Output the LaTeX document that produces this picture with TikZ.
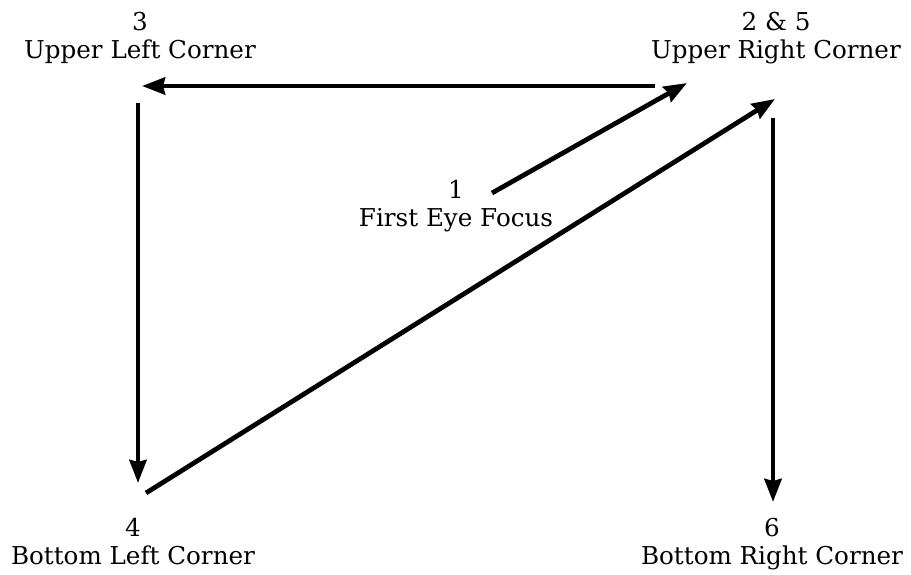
\documentclass[tikz,border=0pt]{standalone}
\usepackage{fontspec}
\setmainfont{DejaVu Serif}
\usetikzlibrary{arrows.meta, positioning}

\begin{document}
\begin{tikzpicture}[x=0.02cm, y=-0.02cm,
    corner/.style={align=center, inner sep=0pt, anchor=north,
                   font=\fontsize{14}{15.9}\selectfont},
    arr/.style={-{Stealth[length=0.46cm, width=0.34cm, inset=0.04cm]},
                line width=2.7pt}
  ]
    \useasboundingbox (0,0) rectangle (911,574);

    % labels of the eye path
    \node[corner] (ulc) at (140,12) {3\\Upper Left Corner};
    \node[corner] (urc) at (776,12) {2 \& 5\\Upper Right Corner};
    \node[corner] (focus) at (456,180) {1\\First Eye Focus};
    \node[corner] (blc) at (133,518) {4\\Bottom Left Corner};
    \node[corner] (brc) at (772,518) {6\\Bottom Right Corner};

    % arrow ends
    \coordinate (s1) at (492,193);  \coordinate (e1) at (687,83);
    \coordinate (s2) at (655,86);   \coordinate (e2) at (142,86);
    \coordinate (s3) at (138,103);  \coordinate (e3) at (138,483);
    \coordinate (s4) at (146,493);  \coordinate (e4) at (775,99);
    \coordinate (s5) at (773,118);  \coordinate (e5) at (773,502);

    \draw[arr] (s1) -- (e1);
    \draw[arr] (s2) -- (e2);
    \draw[arr] (s3) -- (e3);
    \draw[arr] (s4) -- (e4);
    \draw[arr] (s5) -- (e5);
  \end{tikzpicture}
\end{document}
